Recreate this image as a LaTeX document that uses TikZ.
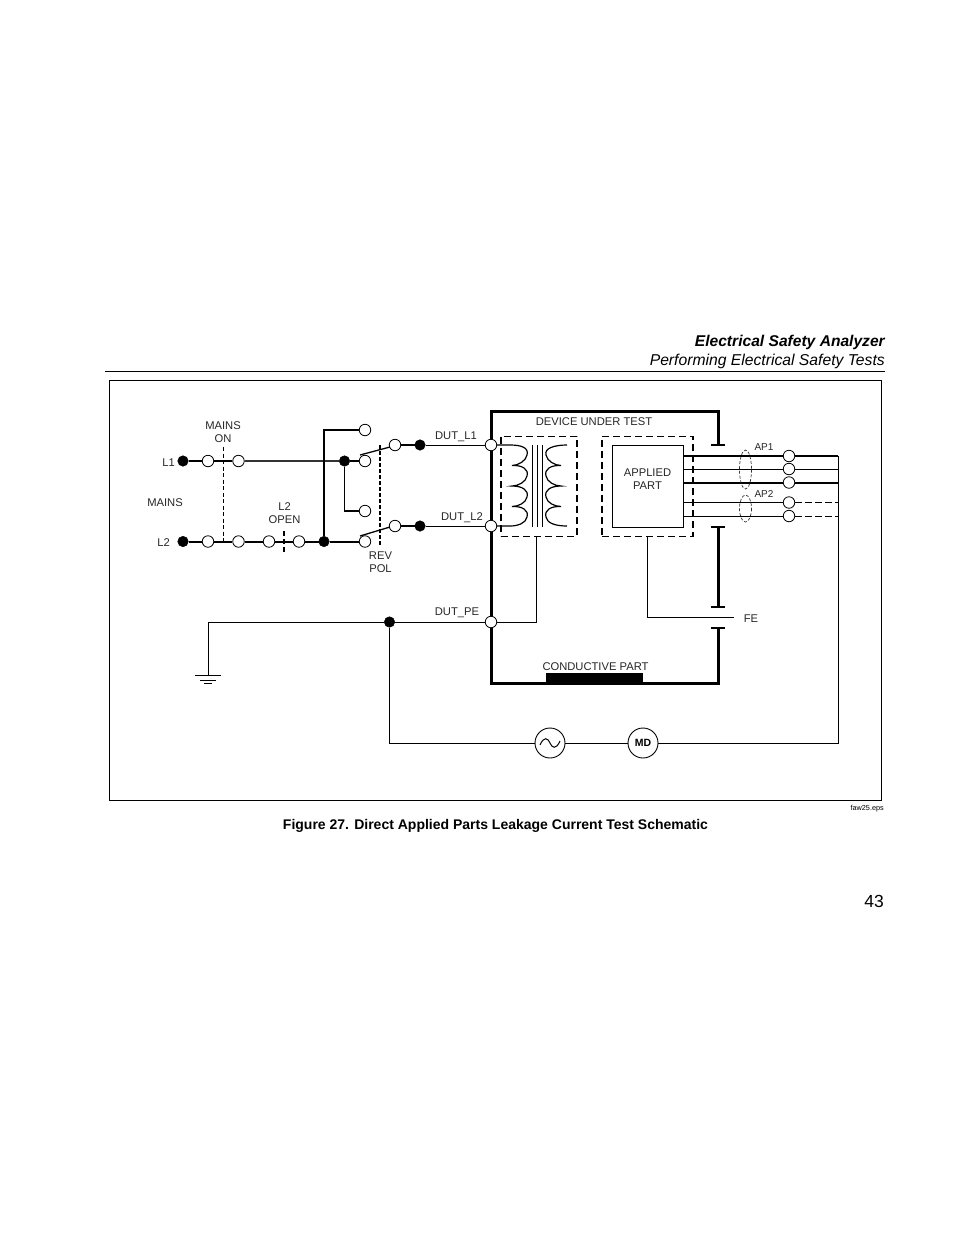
\documentclass[tikz,border=0pt]{standalone}
\usepackage{fontspec}
\setmainfont{Liberation Sans}
\usetikzlibrary{calc}
\tikzset{
 op/.style={circle,draw=black,fill=white,line width=.8pt,minimum size=11.5pt,inner sep=0pt},
 fl/.style={circle,draw=black,fill=black,line width=.5pt,minimum size=10.5pt,inner sep=0pt},
 lab/.style={inner sep=0pt,align=center,font=\fontsize{11.2}{13.2}\selectfont,text=black!85},
 thin1/.style={line width=1pt},
 thick1/.style={line width=2pt},
 wall/.style={line width=3pt},
 dbox/.style={line width=1.4pt,dash pattern=on 7pt off 4pt},
 meter/.style={circle,draw=black,fill=white,line width=.9pt,minimum size=30pt,inner sep=0pt},
}
\begin{document}
\begin{tikzpicture}[x=1pt,y=-1pt]
\useasboundingbox (0,0) rectangle (954,1235);
% header
\node[anchor=east,inner sep=0pt,font=\fontsize{15.6}{18}\selectfont\bfseries\itshape] (h1) at (885,342.5) {Electrical Safety Analyzer};
\node[anchor=east,inner sep=0pt,font=\fontsize{15.7}{18}\selectfont\itshape] (h2) at (885,361.5) {Performing Electrical Safety Tests};
\coordinate (r1) at (105,371); \coordinate (r2) at (885,371);
\draw[line width=.9pt] (r1) -- (r2);
\node[draw=black,line width=.9pt,minimum width=772pt,minimum height=420pt,inner sep=0pt,anchor=north west] (frame) at (109,380) {};
\node[anchor=east,inner sep=0pt,font=\fontsize{7.3}{9}\selectfont] (eps) at (884,808.5) {faw25.eps};
\node[inner sep=0pt,font=\fontsize{14}{16}\selectfont\bfseries] (cap) at (495.5,825.5) {Figure 27. Direct Applied Parts Leakage Current Test Schematic};
\node[anchor=east,inner sep=0pt,font=\fontsize{17.5}{20}\selectfont] (pg) at (884,901.5) {43};

% coordinates
\coordinate (sw1a) at (360,455); \coordinate (sw1b) at (390,447);
\coordinate (sw2a) at (360,536); \coordinate (sw2b) at (390,527);
\coordinate (tl) at (491,411); \coordinate (tr) at (718,411);
\coordinate (t1) at (718,445); \coordinate (t2) at (718,527);
\coordinate (t3) at (718,607); \coordinate (t4) at (718,628);
\coordinate (bl) at (491,683); \coordinate (br) at (718,683);
\coordinate (gnd) at (208,622); \coordinate (gb) at (208,675.5);
\coordinate (rail) at (838,456); \coordinate (railb) at (838,743);
\coordinate (tp) at (536.5,536); \coordinate (tpb) at (536.5,622);
\coordinate (ap) at (647,536); \coordinate (fe1) at (647,617); \coordinate (fe2) at (734,617);

% wall
\draw[wall,line cap=butt,line join=miter] (t1) -- (tr) -- (tl) -- (bl) -- (br) -- (t4);
\draw[wall] (t2) -- (t3);
\draw[line width=2.6pt] ($(t1)+(-7,0)$) -- ($(t1)+(7,0)$);
\draw[line width=2.6pt] ($(t2)+(-7,0)$) -- ($(t2)+(7,0)$);
\draw[line width=2.6pt] ($(t3)+(-7,0)$) -- ($(t3)+(7,0)$);
\draw[line width=2.6pt] ($(t4)+(-7,0)$) -- ($(t4)+(7,0)$);
\node[fill=black,inner sep=0pt,minimum width=97pt,minimum height=10pt,anchor=south] (cond) at (594.5,683) {};

% nodes
\node[fl] (L1) at (183,461) {};
\node[op] (a1) at (208,461) {};
\node[op] (a2) at (238.5,461) {};
\node[fl] (j1) at (344.5,461) {};
\node[op] (s1) at (365,461) {};
\node[op] (s0) at (365,430) {};
\node[op] (s2) at (365,511) {};
\node[fl] (L2) at (183,541.5) {};
\node[op] (b1) at (208,541.5) {};
\node[op] (b2) at (238.5,541.5) {};
\node[op] (b3) at (269,541.5) {};
\node[op] (b4) at (299,541.5) {};
\node[fl] (j2) at (324,541.5) {};
\node[op] (s3) at (365,541.5) {};
\node[op] (o1) at (395,445) {};
\node[fl] (f1) at (420,445) {};
\node[op] (d1) at (491,445) {};
\node[op] (o2) at (395,526) {};
\node[fl] (f2) at (420,526) {};
\node[op] (d2) at (491,526) {};
\node[op] (dpe) at (491,622) {};
\node[fl] (jpe) at (389.5,622) {};
\node[meter] (src) at (550,743) {};
\node[meter,font=\fontsize{10.5}{12}\selectfont\bfseries] (md) at (643,743) {MD};
\draw[line width=1pt] (540,745) .. controls (544,736) and (548,738) .. (550,743) .. controls (552,748) and (556,750) .. (560,741);

% wiring
\draw[thick1] (L1) -- (a1);
\draw[thick1] (a1) -- (a2);
\draw[line width=1.5pt,black!80] (a2) -- (j1);
\draw[thick1] (j1) -- (s1);
\draw[line width=1.5pt] (j1) -- (344.5,511) -- (s2);
\draw[thick1] (L2) -- (b1);
\draw[thick1] (b1) -- (b2);
\draw[thick1] (b2) -- (b3);
\draw[thick1] (b3) -- (b4);
\draw[thick1] (b4) -- (j2);
\draw[thick1] (j2) -- (s3);
\draw[line width=1.5pt] (j2) -- (324,430) -- (s0);
\draw[line width=1.3pt] (sw1a) -- (sw1b);
\draw[line width=1.3pt] (sw2a) -- (sw2b);
\draw[thick1] (o1) -- (f1);
\draw[thick1] (o2) -- (f2);
\draw[thin1] (f1) -- (d1);
\draw[thin1] (f2) -- (d2);
\draw[thin1] (gb) -- (gnd) -- (jpe);
\draw[thin1] (jpe) -- (dpe);
\draw[thin1] (dpe) -- (tpb) -- (tp);
\draw[thin1] (jpe) |- (src);
\draw[thin1] (src) -- (md);
\draw[thin1] (md) -- (railb) -- (rail);
\draw[thin1] (ap) -- (fe1) -- (fe2);
% ground
\draw[line width=1.6pt] (195,675.5) -- (221,675.5);
\draw[thin1] (200,680) -- (216,680);
\draw[thin1] (204,683.5) -- (212,683.5);
% dashed control lines
\coordinate (m1) at (223,447); \coordinate (m2) at (223,541.5);
\draw[line width=1pt,dash pattern=on 4pt off 2.5pt] (m1) -- (m2);
\coordinate (o1a) at (284,531); \coordinate (o1b) at (284,552);
\draw[line width=1.8pt,dash pattern=on 5pt off 3pt] (o1a) -- (o1b);
\coordinate (r1a) at (380,445); \coordinate (r1b) at (380,545);
\draw[line width=1.6pt,dash pattern=on 4pt off 2pt] (r1a) -- (r1b);

% transformer
\draw[line width=1.2pt] (d1) -- (510,445)
 .. controls (522,445) and (529,448) .. (527,455) .. controls (526,461) and (518,465.5) .. (512,465.5)
 .. controls (522,465) and (529,469) .. (527,476) .. controls (526,482) and (518,486) .. (512,486)
 .. controls (522,486) and (529,490) .. (527,497) .. controls (526,503) and (518,506.5) .. (512,506.5)
 .. controls (522,506) and (529,510) .. (527,517) .. controls (526,523) and (518,526) .. (510,526) -- (d2);
\draw[line width=1.2pt] (567,445)
 .. controls (555,445) and (544,448) .. (546,455) .. controls (547,461) and (555,465.5) .. (561,465.5)
 .. controls (551,465) and (544,469) .. (546,476) .. controls (547,482) and (555,486) .. (561,486)
 .. controls (551,486) and (544,490) .. (546,497) .. controls (547,503) and (555,506.5) .. (561,506.5)
 .. controls (551,506) and (544,510) .. (546,517) .. controls (547,523) and (555,526) .. (567,526);
\draw[line width=1pt] (532,445) -- (532,527);
\draw[line width=1pt] (537,445) -- (537,527);
\draw[line width=1pt] (542,445) -- (542,527);
\node[draw=black,dbox,minimum width=76pt,minimum height=100pt,inner sep=0pt,anchor=north west] (tbox) at (500.3,435.5) {};
\node[draw=black,dbox,minimum width=91pt,minimum height=100pt,inner sep=0pt,anchor=north west] (abox) at (601.3,435.5) {};
\node[draw=black,line width=1pt,minimum width=71pt,minimum height=82pt,inner sep=0pt,anchor=north west] (apart) at (612,445) {};
\node[lab] (aplab) at (647.5,479) {APPLIED\\PART};

% applied part leads
\node[op] (p1) at (789,456) {};
\node[op] (p2) at (789,469) {};
\node[op] (p3) at (789,482.5) {};
\node[op] (p4) at (789,502.5) {};
\node[op] (p5) at (789,516) {};
\draw[thick1] (apart.east|-p1) -- (p1);
\draw[thin1] (apart.east|-p2) -- (p2);
\draw[thick1] (apart.east|-p3) -- (p3);
\draw[thin1] (apart.east|-p4) -- (p4);
\draw[thin1] (apart.east|-p5) -- (p5);
\draw[thick1] (p1) -- (838,456);
\draw[thin1] (p2) -- (838,469);
\draw[thick1] (p3) -- (838,482.5);
\draw[thin1,dash pattern=on 7pt off 3pt] (p4) -- (838,502.5);
\draw[thin1,dash pattern=on 7pt off 3pt] (p5) -- (838,516);
\draw[line width=.7pt,black!80,dash pattern=on 3pt off 1.8pt] (745.5,469.5) ellipse [x radius=6,y radius=19.5];
\draw[line width=.7pt,black!80,dash pattern=on 3pt off 1.8pt] (745.5,508.5) ellipse [x radius=6,y radius=13.5];

% labels
\node[lab] (tm) at (223,432) {MAINS\\ON};
\node[lab,anchor=east] (tl1) at (175,462.5) {L1};
\node[lab,anchor=east] (tl2) at (170,542.5) {L2};
\node[lab] (tmains) at (165,503) {MAINS};
\node[lab] (topen) at (284.5,513) {L2\\OPEN};
\node[lab] (trev) at (380.5,562) {REV\\POL};
\node[lab] (tdl1) at (456,437) {DUT\_L1};
\node[lab] (tdl2) at (462,518) {DUT\_L2};
\node[lab] (tdpe) at (457,612.5) {DUT\_PE};
\node[lab] (tdut) at (594,421.5) {DEVICE UNDER TEST};
\node[lab] (tcond) at (595.5,666.5) {CONDUCTIVE PART};
\node[lab] (tfe) at (751,619) {FE};
\node[lab,font=\fontsize{10}{12}\selectfont] (tap1) at (764,447) {AP1};
\node[lab,font=\fontsize{10}{12}\selectfont] (tap2) at (764,494) {AP2};
\end{tikzpicture}
\end{document}
